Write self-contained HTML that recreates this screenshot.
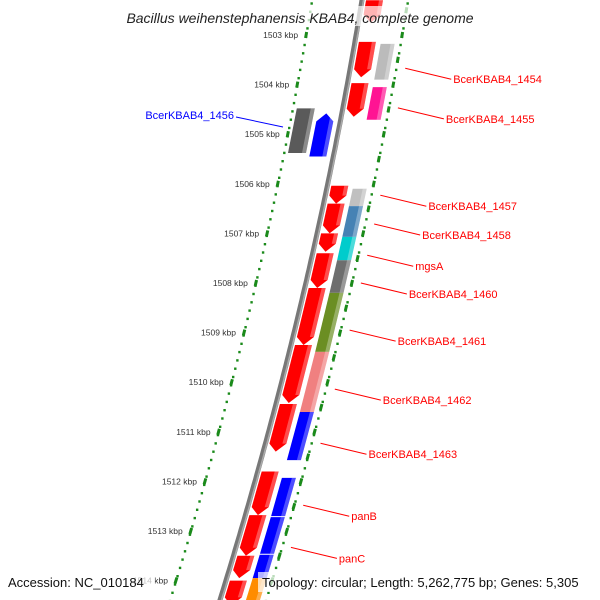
<!DOCTYPE html>
<html><head><meta charset="utf-8"><style>
html,body{margin:0;background:#fff;width:600px;height:600px;overflow:hidden}
svg{display:block;font-family:"Liberation Sans",sans-serif;overflow:hidden}
</style></head><body>
<svg id="map" width="600" height="600" viewBox="0 0 600 600"></svg>
<script>
const tickKbp=[1503,1504,1505,1506,1507,1508,1509,1510,1511,1512,1513,1514];
const colAStarts=[1502.3,1503.14,1503.97,1506.04,1506.4,1507.0,1507.4,1508.1,1509.25,1510.44,1511.8,1512.68,1513.5,1514.0];
const colAEnds=[1502.75,1503.85,1504.65,1506.4,1507.0,1507.37,1508.1,1509.25,1510.42,1511.4,1512.68,1513.5,1513.95,1514.5];
const colBStarts=[1503.18,1504.05,1506.1,1506.45,1507.07,1507.54,1508.2,1509.39,1510.6,1511.93,1512.72,1513.48,1513.95];
const colBEnds=[1503.9,1504.71,1506.45,1507.07,1507.54,1508.2,1509.39,1510.6,1511.57,1512.7,1513.46,1513.95,1514.5];
const colBColors=["#bbbbbb","#ff1493","#c0c0c0","#4682b4","#00cccc","#6e6e6e","#6b8e23","#f08080","#0000ff","#0000ff","#0000ff","#0000ff","#ff8c00"];
const colCStarts=[1504.48,1504.58];
const colCEnds=[1505.38,1505.45];
const colCColors=["#5a5a5a","#0000ff"];
const labelNames=["BcerKBAB4_1454","BcerKBAB4_1455","BcerKBAB4_1457","BcerKBAB4_1458","mgsA","BcerKBAB4_1460","BcerKBAB4_1461","BcerKBAB4_1462","BcerKBAB4_1463","panB","panC"];
const labelKbp=[1503.67,1504.47,1506.23,1506.81,1507.44,1508.0,1508.95,1510.14,1511.23,1512.48,1513.33];

const NS="http://www.w3.org/2000/svg";
const svg=document.getElementById('map');
function yS(k){return 35+(k-1503)*49.6;}
function bx(y){return 362-0.1642*y-0.0001208*y*y;}
function el(t,a,p){const e=document.createElementNS(NS,t);for(const k in a)e.setAttribute(k,a[k]);(p||svg).appendChild(e);return e;}

function ring(off,name,step){
  const g=el('g',{});
  
  
  for(let y=-5;y<610;y+=8.3){el('rect',{x:bx(y)+off-1,y:y-1,width:2.4,height:2.4,fill:'#1a8a1a'},g);}
  for(let k=1502;k<=1515;k+=step){const y=yS(k);
    const yA=y-3,yB=y+3;
    el('line',{x1:bx(yA)+off,y1:yA,x2:bx(yB)+off,y2:yB,stroke:'#1a8a1a','stroke-width':3},g);}
  return g;
}
ring(-50,'inner-tick-ring',1);
ring(46,'outer-tick-ring',0.5);

let d='';for(let y=-5;y<=605;y+=5){d+=(d?'L':'M')+bx(y).toFixed(1)+','+y;}
const bb=el('path',{d:d,stroke:'#777',"stroke-width":5,fill:'none'});


el('path',{d:d,stroke:'#aaa',"stroke-width":1.5,fill:'none',transform:'translate(1.5,0)'});

function gene(k1,k2,o1,o2,color,arrow,name){
  const y1=yS(k1),y2=yS(k2);
  let pts;
  if(arrow==='down'){const ya=y2-8;const ym=(o1+o2)/2;
    pts=[[bx(y1)+o1,y1],[bx(y1)+o2,y1],[bx(ya)+o2,ya],[bx(y2)+ym,y2],[bx(ya)+o1,ya]];}
  else if(arrow==='up'){const ya=y1+8;const ym=(o1+o2)/2;
    pts=[[bx(y1)+ym,y1],[bx(ya)+o2,ya],[bx(y2)+o2,y2],[bx(y2)+o1,y2],[bx(ya)+o1,ya]];}
  else pts=[[bx(y1)+o1,y1],[bx(y1)+o2,y1],[bx(y2)+o2,y2],[bx(y2)+o1,y2]];
  const p=el('polygon',{points:pts.map(q=>q.map(v=>v.toFixed(1)).join(',')).join(' '),fill:color});
  
  
  const ye=y2-(arrow==='down'?8:0);
  el('polygon',{points:[[bx(y1)+o2-4,y1],[bx(y1)+o2,y1],[bx(ye)+o2,ye],[bx(ye)+o2-4,ye]].map(q=>q.map(v=>v.toFixed(1)).join(',')).join(' '),fill:'#fff',opacity:0.3});
}
colAStarts.forEach((s,i)=>gene(s,colAEnds[i],4,21,'#ff0000','down','forward-gene'));
colBStarts.forEach((s,i)=>gene(s,colBEnds[i],26,40,colBColors[i],'none','gene-'+colBColors[i].slice(1)));
gene(colCStarts[0],colCEnds[0],-46,-28,colCColors[0],'none','reverse-gene-grey');
gene(colCStarts[1],colCEnds[1],-24,-7,colCColors[1],'up','reverse-gene-1456');

tickKbp.forEach(k=>{const y=yS(k);const t=el('text',{x:bx(y)-58,y:y+3,'font-size':8.5,fill:'#333','text-anchor':'end'});t.textContent=k+' kbp';
  
  });

labelNames.forEach((n,i)=>{const y=yS(labelKbp[i]);const x1=bx(y)+55;
  el('line',{x1:x1,y1:y,x2:x1+46,y2:y+11,stroke:'#ff0000','stroke-width':1});
  const t=el('text',{x:x1+48,y:y+15,'font-size':11,fill:'#ff0000'});t.textContent=n;
  
  });
{el('line',{x1:236,y1:117,x2:283,y2:127,stroke:'#0000ff','stroke-width':1});
 const t=el('text',{x:234,y:119,'font-size':11,fill:'#0000ff','text-anchor':'end'});t.textContent='BcerKBAB4_1456';
 
 }

el('rect',{x:110,y:6,width:380,height:20,fill:'#fff',opacity:0.7});
const tt=el('text',{x:300,y:23,'font-size':14,'font-style':'italic','text-anchor':'middle',fill:'#222'});tt.textContent='Bacillus weihenstephanensis KBAB4, complete genome';


el('rect',{x:5,y:572,width:150,height:20,fill:'#fff',opacity:0.7});
el('rect',{x:258,y:572,width:340,height:20,fill:'#fff',opacity:0.7});
const a=el('text',{x:8,y:587,'font-size':13,fill:'#111'});a.textContent='Accession: NC_010184';


const b=el('text',{x:262,y:587,'font-size':13,fill:'#111'});b.textContent='Topology: circular; Length: 5,262,775 bp; Genes: 5,305';


</script>
</body></html>
